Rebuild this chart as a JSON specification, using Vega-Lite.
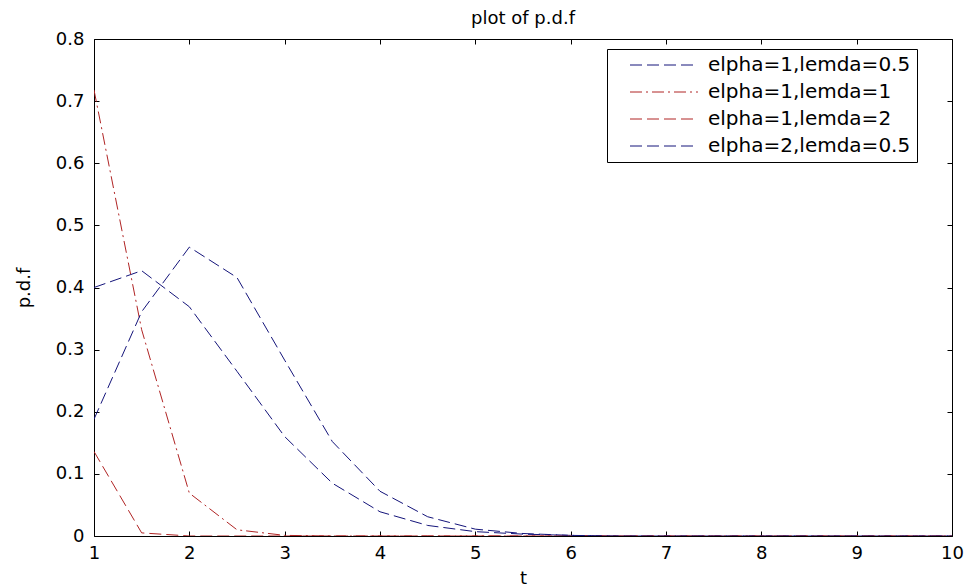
{
  "$schema": "https://vega.github.io/schema/vega-lite/v6.json",
  "width": 858,
  "height": 497,
  "autosize": "none",
  "padding": {"left": 94, "top": 39, "right": 15, "bottom": 52},
  "background": "white",
  "title": {"text": "plot of p.d.f", "font": "DejaVu Sans", "fontSize": 18, "fontWeight": "normal", "color": "black", "offset": 2},
  "config": {
    "view": {"stroke": null},
    "font": "DejaVu Sans",
    "axis": {
      "domainColor": "black", "domainWidth": 1, "tickColor": "black", "tickWidth": 1,
      "labelColor": "black", "titleColor": "black", "grid": false, "tickSize": -5,
      "labelFont": "DejaVu Sans", "labelFontSize": 18, "titleFont": "DejaVu Sans",
      "titleFontSize": 18, "titleFontWeight": "normal", "labelFlush": false
    }
  },
  "data": {"values": [
    {"t": 1, "v": 0.400, "s": "elpha=1,lemda=0.5"},
    {"t": 1.5, "v": 0.427, "s": "elpha=1,lemda=0.5"},
    {"t": 2, "v": 0.369, "s": "elpha=1,lemda=0.5"},
    {"t": 2.5, "v": 0.265, "s": "elpha=1,lemda=0.5"},
    {"t": 3, "v": 0.160, "s": "elpha=1,lemda=0.5"},
    {"t": 3.5, "v": 0.085, "s": "elpha=1,lemda=0.5"},
    {"t": 4, "v": 0.039, "s": "elpha=1,lemda=0.5"},
    {"t": 4.5, "v": 0.017, "s": "elpha=1,lemda=0.5"},
    {"t": 5, "v": 0.007, "s": "elpha=1,lemda=0.5"},
    {"t": 5.5, "v": 0.003, "s": "elpha=1,lemda=0.5"},
    {"t": 6, "v": 0.001, "s": "elpha=1,lemda=0.5"},
    {"t": 6.5, "v": 0, "s": "elpha=1,lemda=0.5"},
    {"t": 7, "v": 0, "s": "elpha=1,lemda=0.5"},
    {"t": 7.5, "v": 0, "s": "elpha=1,lemda=0.5"},
    {"t": 8, "v": 0, "s": "elpha=1,lemda=0.5"},
    {"t": 8.5, "v": 0, "s": "elpha=1,lemda=0.5"},
    {"t": 9, "v": 0, "s": "elpha=1,lemda=0.5"},
    {"t": 9.5, "v": 0, "s": "elpha=1,lemda=0.5"},
    {"t": 10, "v": 0, "s": "elpha=1,lemda=0.5"},
    {"t": 1, "v": 0.718, "s": "elpha=1,lemda=1"},
    {"t": 1.5, "v": 0.332, "s": "elpha=1,lemda=1"},
    {"t": 2, "v": 0.069, "s": "elpha=1,lemda=1"},
    {"t": 2.5, "v": 0.010, "s": "elpha=1,lemda=1"},
    {"t": 3, "v": 0.001, "s": "elpha=1,lemda=1"},
    {"t": 3.5, "v": 0, "s": "elpha=1,lemda=1"},
    {"t": 4, "v": 0, "s": "elpha=1,lemda=1"},
    {"t": 4.5, "v": 0, "s": "elpha=1,lemda=1"},
    {"t": 5, "v": 0, "s": "elpha=1,lemda=1"},
    {"t": 5.5, "v": 0, "s": "elpha=1,lemda=1"},
    {"t": 6, "v": 0, "s": "elpha=1,lemda=1"},
    {"t": 6.5, "v": 0, "s": "elpha=1,lemda=1"},
    {"t": 7, "v": 0, "s": "elpha=1,lemda=1"},
    {"t": 7.5, "v": 0, "s": "elpha=1,lemda=1"},
    {"t": 8, "v": 0, "s": "elpha=1,lemda=1"},
    {"t": 8.5, "v": 0, "s": "elpha=1,lemda=1"},
    {"t": 9, "v": 0, "s": "elpha=1,lemda=1"},
    {"t": 9.5, "v": 0, "s": "elpha=1,lemda=1"},
    {"t": 10, "v": 0, "s": "elpha=1,lemda=1"},
    {"t": 1, "v": 0.136, "s": "elpha=1,lemda=2"},
    {"t": 1.5, "v": 0.005, "s": "elpha=1,lemda=2"},
    {"t": 2, "v": 0, "s": "elpha=1,lemda=2"},
    {"t": 2.5, "v": 0, "s": "elpha=1,lemda=2"},
    {"t": 3, "v": 0, "s": "elpha=1,lemda=2"},
    {"t": 3.5, "v": 0, "s": "elpha=1,lemda=2"},
    {"t": 4, "v": 0, "s": "elpha=1,lemda=2"},
    {"t": 4.5, "v": 0, "s": "elpha=1,lemda=2"},
    {"t": 5, "v": 0, "s": "elpha=1,lemda=2"},
    {"t": 5.5, "v": 0, "s": "elpha=1,lemda=2"},
    {"t": 6, "v": 0, "s": "elpha=1,lemda=2"},
    {"t": 6.5, "v": 0, "s": "elpha=1,lemda=2"},
    {"t": 7, "v": 0, "s": "elpha=1,lemda=2"},
    {"t": 7.5, "v": 0, "s": "elpha=1,lemda=2"},
    {"t": 8, "v": 0, "s": "elpha=1,lemda=2"},
    {"t": 8.5, "v": 0, "s": "elpha=1,lemda=2"},
    {"t": 9, "v": 0, "s": "elpha=1,lemda=2"},
    {"t": 9.5, "v": 0, "s": "elpha=1,lemda=2"},
    {"t": 10, "v": 0, "s": "elpha=1,lemda=2"},
    {"t": 1, "v": 0.188, "s": "elpha=2,lemda=0.5"},
    {"t": 1.5, "v": 0.361, "s": "elpha=2,lemda=0.5"},
    {"t": 2, "v": 0.465, "s": "elpha=2,lemda=0.5"},
    {"t": 2.5, "v": 0.416, "s": "elpha=2,lemda=0.5"},
    {"t": 3, "v": 0.283, "s": "elpha=2,lemda=0.5"},
    {"t": 3.5, "v": 0.152, "s": "elpha=2,lemda=0.5"},
    {"t": 4, "v": 0.072, "s": "elpha=2,lemda=0.5"},
    {"t": 4.5, "v": 0.031, "s": "elpha=2,lemda=0.5"},
    {"t": 5, "v": 0.011, "s": "elpha=2,lemda=0.5"},
    {"t": 5.5, "v": 0.004, "s": "elpha=2,lemda=0.5"},
    {"t": 6, "v": 0.001, "s": "elpha=2,lemda=0.5"},
    {"t": 6.5, "v": 0, "s": "elpha=2,lemda=0.5"},
    {"t": 7, "v": 0, "s": "elpha=2,lemda=0.5"},
    {"t": 7.5, "v": 0, "s": "elpha=2,lemda=0.5"},
    {"t": 8, "v": 0, "s": "elpha=2,lemda=0.5"},
    {"t": 8.5, "v": 0, "s": "elpha=2,lemda=0.5"},
    {"t": 9, "v": 0, "s": "elpha=2,lemda=0.5"},
    {"t": 9.5, "v": 0, "s": "elpha=2,lemda=0.5"},
    {"t": 10, "v": 0, "s": "elpha=2,lemda=0.5"}
  ]},
  "layer": [
    {
      "mark": {"type": "line", "strokeWidth": 1, "clip": true},
      "encoding": {
        "x": {"field": "t", "type": "quantitative", "scale": {"domain": [1, 10], "nice": false, "zero": false},
              "axis": {"values": [1,2,3,4,5,6,7,8,9,10], "title": "t", "labelPadding": 13, "titlePadding": 7}},
        "y": {"field": "v", "type": "quantitative", "scale": {"domain": [0, 0.8], "nice": false},
              "axis": {"values": [0,0.1,0.2,0.3,0.4,0.5,0.6,0.7,0.8], "format": ".1~f", "title": "p.d.f", "labelPadding": 15, "titlePadding": 22}},
        "color": {"field": "s", "type": "nominal",
                  "scale": {"domain": ["elpha=1,lemda=0.5","elpha=1,lemda=1","elpha=1,lemda=2","elpha=2,lemda=0.5"],
                            "range": ["#14147a","#b02424","#b02424","#14147a"]},
                  "legend": {"title": null, "orient": "none", "legendX": 513, "legendY": 10,
                             "fillColor": "white", "strokeColor": "black", "padding": 6,
                             "labelFont": "DejaVu Sans", "labelFontSize": 20, "labelColor": "black", "labelLimit": 400,
                             "symbolType": "M0.737,0H7.89", "symbolSize": 361, "symbolStrokeWidth": 1,
                             "labelOffset": 75, "rowPadding": 7}},
        "strokeDash": {"field": "s", "type": "nominal",
                       "scale": {"domain": ["elpha=1,lemda=0.5","elpha=1,lemda=1","elpha=1,lemda=2","elpha=2,lemda=0.5"],
                                 "range": [[12,5],[12,4,2,4],[12,5],[12,5]]},
                       "legend": {"title": null, "orient": "none", "legendX": 513, "legendY": 10}}
      }
    },
    {
      "mark": {"type": "line", "opacity": 0},
      "encoding": {
        "x": {"field": "t", "type": "quantitative", "axis": {"orient": "top", "values": [1,2,3,4,5,6,7,8,9,10], "labels": false, "title": null}},
        "y": {"field": "v", "type": "quantitative", "axis": {"orient": "right", "values": [0,0.1,0.2,0.3,0.4,0.5,0.6,0.7,0.8], "labels": false, "title": null}}
      }
    }
  ],
  "resolve": {"axis": {"x": "independent", "y": "independent"}}
}
